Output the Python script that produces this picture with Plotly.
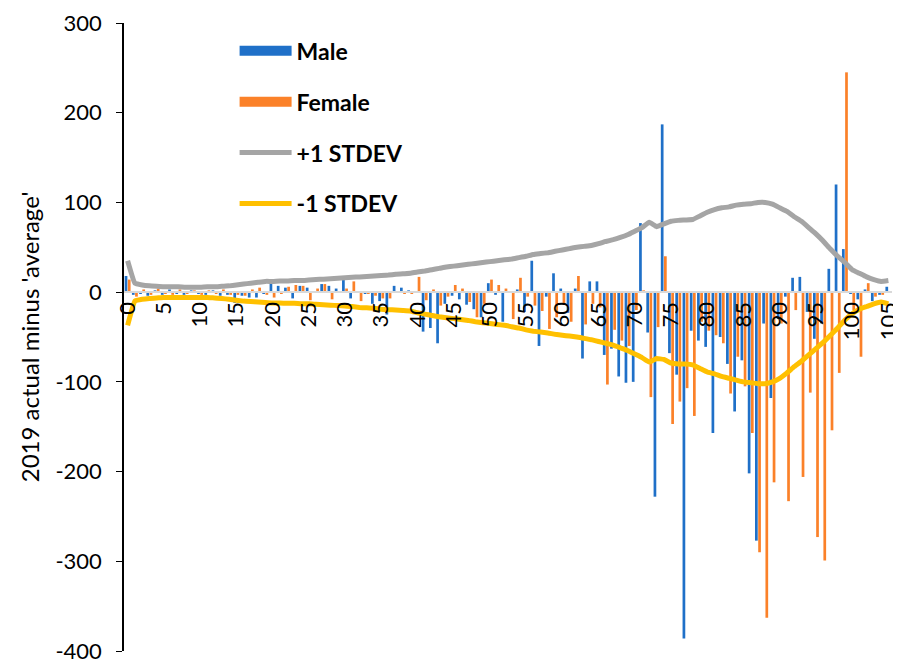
import plotly.graph_objects as go

ages = list(range(0, 106))

male = [18, -3, -2, -4, 2, -3, 3, -2, -3, 2,
        -2, -3, 2, -4, -3, -12, -4, -6, -6, -1,
        14, 7, 5, -7, 7, 5, 1, 9, 7, 4,
        18, -7, 0, -2, -13, -10, -25, 7, 5, 2,
        1, -44, -40, -57, -13, -4, -8, -14, -19, -28,
        10, -3, -33, 1, 3, -22, 35, -60, -5, 21,
        4, -23, 4, -74, 12, 12, -70, -63, -94, -101,
        -100, 77, -45, -228, 187, -68, -92, -386, -43, -54,
        -61, -157, -50, -80, -133, -76, -202, -277, -35, -118,
        -30, -5, 16, 17, -22, -52, -35, 26, 120, 48,
        -2, -8, 3, -10, -3, 6]

female = [14, -5, 3, -3, 4, -2, -3, 3, -2, 2,
          -3, 2, -2, 3, -3, -3, -4, 3, 5, -3,
          -6, -2, 6, 8, 7, -9, 4, 9, -8, 1,
          4, 12, -10, -2, -4, -7, -7, 1, -2, -2,
          17, -9, 3, -15, -5, 8, 4, -11, -28, -13,
          14, 8, 4, -30, 16, -5, -15, -21, -41, -28,
          -14, -33, 18, -36, -13, -17, -103, -42, -54, -60,
          -20, 2, -117, -39, 40, -147, -122, -107, -138, -33,
          -43, -48, -57, -113, -72, -105, -157, -290, -363, -212,
          -35, -233, -20, -206, -112, -273, -299, -154, -90, 245,
          -20, -72, 10, -5, -3, 0]

plus_sd = [35, 10, 8, 7, 6.5, 6, 6, 6, 5.5, 5.5,
           5.5, 6, 6, 6.5, 7, 8, 9, 10, 11, 12,
           12, 12.5, 12.5, 13, 13, 13.5, 14, 14.5, 15, 15.5,
           16, 16.5, 17, 17.5, 18, 18.5, 19, 20, 20.5, 21,
           22.5, 23.5, 25, 26.5, 28, 29, 30, 31, 32, 33,
           34, 35, 36, 37, 38.5, 40, 42, 43, 44, 45.5,
           47, 48.5, 50, 51, 52, 54, 56.5, 58.5, 61, 64,
           68, 72, 78, 73, 76, 79, 80, 80.5, 81, 85,
           89, 92, 94, 95, 97, 98, 98.5, 100, 100, 98,
           94, 90, 84, 79, 72, 65, 57, 48, 40, 33,
           25, 21, 17, 14, 12, 13]

minus_sd = [-37, -10, -8, -7, -6.5, -6, -6, -6, -6, -6,
            -6, -6, -6.5, -7, -8, -9, -10, -10.5, -11, -11.5,
            -12, -12, -12.5, -12.5, -13, -13, -13.5, -14, -14.5, -15,
            -15.5, -16, -17, -17.5, -18, -19, -19.5, -20, -20.5, -21,
            -23, -24.5, -26, -27.5, -28.5, -29.5, -30.5, -31.5, -33, -34,
            -35, -36, -37, -38.5, -40, -42, -43.5, -44.5, -45.5, -47,
            -48, -49, -50, -51.5, -53, -55, -57, -59, -62, -65,
            -69, -73, -78, -74, -75, -79, -80, -80, -81, -85,
            -89, -91, -94, -96, -98, -100, -101, -102, -102, -100,
            -96, -90, -83, -77, -70, -63, -56, -48, -40, -31,
            -24, -19, -16, -13, -11, -13]

x_tick_vals = list(range(0, 106, 5))
x_tick_text = [str(v) for v in x_tick_vals]
y_tick_vals = [300, 200, 100, 0, -100, -200, -300, -400]
y_tick_text = ["300", "200", "100", "0", "-100", "-200", "-300", "-400"]

BLUE = "#1F70C8"
ORANGE = "#FB8129"
GRAY = "#A5A5A5"
YELLOW = "#FFC000"
FONT = "Lato"

fig = go.Figure()
fig.add_trace(go.Bar(x=ages, y=male, name="Male", marker_color=BLUE,
                     marker_line_width=0, showlegend=False))
fig.add_trace(go.Bar(x=ages, y=female, name="Female", marker_color=ORANGE,
                     marker_line_width=0, showlegend=False))
fig.add_trace(go.Scatter(x=ages, y=plus_sd, name="+1 STDEV", mode="lines",
                         line=dict(color=GRAY, width=5, shape="spline", smoothing=0.3),
                         showlegend=False))
fig.add_trace(go.Scatter(x=ages, y=minus_sd, name="-1 STDEV", mode="lines",
                         line=dict(color=YELLOW, width=5, shape="spline", smoothing=0.3),
                         showlegend=False))

# legend entries (Excel-style wide swatches for the bar series)
legend_items = [("<b>Male</b>", BLUE, 11), ("<b>Female</b>", ORANGE, 11),
                ("<b>+1 STDEV</b>", GRAY, 5), ("<b>-1 STDEV</b>", YELLOW, 5)]
for i, (label, color, w) in enumerate(legend_items):
    fig.add_trace(go.Scatter(x=[None], y=[None], mode="lines", name=label,
                             line=dict(color=color, width=w),
                             legendgroup="g%d" % i, showlegend=True,
                             hoverinfo="skip"))

# page body has an 8px margin, so the figure is sized to fill the rest of the window
fig.update_layout(
    width=893, height=657,
    margin=dict(l=116, r=9, t=15, b=14, pad=0),
    paper_bgcolor="white", plot_bgcolor="white",
    barmode="group", bargap=0.12, bargroupgap=0.15,
    font=dict(family=FONT, size=22, color="black"),
    showlegend=True,
    legend=dict(x=0.144, y=0.99, xanchor="left", yanchor="top",
                font=dict(family=FONT, size=23, color="black"),
                tracegroupgap=18, itemwidth=52, bgcolor="rgba(0,0,0,0)",
                traceorder="grouped"),
    xaxis=dict(range=[-0.5, 105.5], tickmode="array", tickvals=x_tick_vals,
               ticktext=x_tick_text, tickangle=-90, anchor="free", position=4/7,
               showline=True, linecolor="#D9D9D9", linewidth=2, showgrid=False,
               zeroline=False, ticks="", tickfont=dict(family=FONT, size=22),
               automargin=False, ticklabeloverflow="allow"),
    yaxis=dict(range=[-400, 300], tickmode="array", tickvals=y_tick_vals,
               ticktext=y_tick_text, showline=True, linecolor="black", linewidth=1.5,
               ticks="outside", ticklen=6, tickcolor="black", showgrid=False,
               zeroline=False, tickfont=dict(family=FONT, size=22),
               ticklabelstandoff=10, automargin=False,
               ticklabeloverflow="allow",
               title=dict(text="2019 actual minus 'average'",
                          font=dict(family=FONT, size=24), standoff=9)),
)

fig.write_html("out.html")
